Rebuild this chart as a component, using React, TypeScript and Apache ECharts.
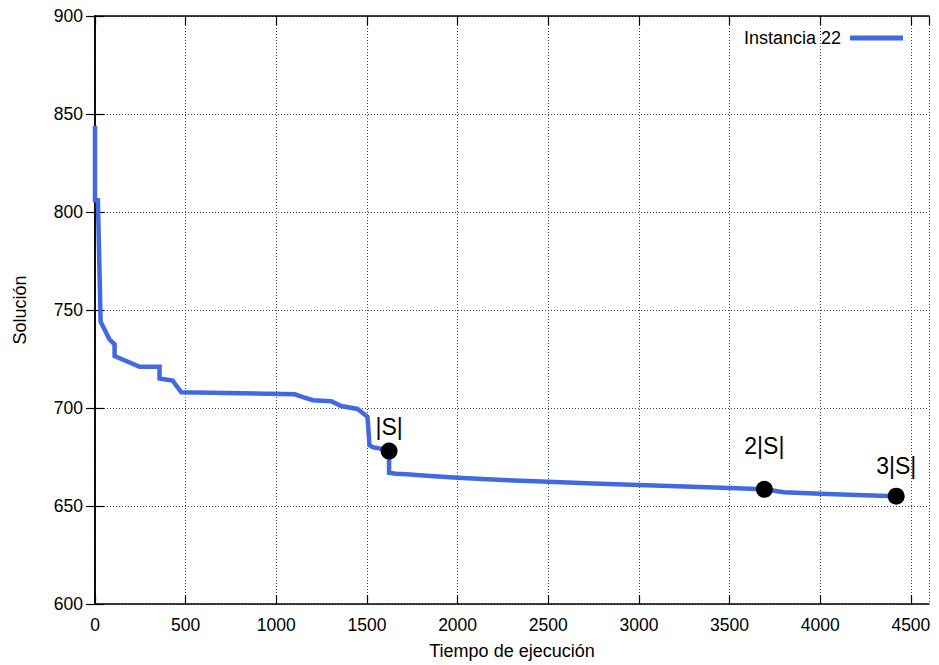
import React, { useEffect, useRef } from "react";
import * as echarts from "echarts";

// Execution time (x) and solution value (y) of the run
const timeValues = [0, 0, 16, 25, 31, 80, 108, 108, 246, 356, 356, 428, 476, 1103, 1147, 1202, 1303, 1358, 1448, 1503, 1514, 1531, 1588, 1622, 1622, 1661, 1717, 1850, 2000, 2250, 2500, 2750, 3000, 3250, 3500, 3692, 3800, 4000, 4200, 4419];
const solutionValues = [844, 806, 806, 769, 744, 735, 732.5, 726.5, 721, 721, 715, 714, 708, 707, 705.5, 704, 703.5, 701, 699.5, 695.5, 681, 680, 679, 678, 667, 666.5, 666.2, 665.3, 664.4, 663.3, 662.4, 661.5, 660.7, 660, 659.2, 658.5, 657, 656.2, 655.6, 655];

// Milestones marked on the curve
const markerTimes = [1622, 3692, 4419];
const markerValues = [678, 658.5, 655];
const markerLabels = ["|S|", "2|S|", "3|S|"];
const markerLabelOffsets = [-24, -43, -30];

const seriesName = "Instancia 22";
const xName = "Tiempo de ejecución";
const yName = "Solución";

const FONT = "'Liberation Sans', Arial, Helvetica, sans-serif";

export default function App() {
  const ref = useRef<HTMLDivElement>(null);
  useEffect(() => {
    if (!ref.current) return;
    const chart = echarts.init(ref.current, undefined, { renderer: "svg" });
    const lineData = timeValues.map((t, i) => [t, solutionValues[i]]);
    const markerData = markerTimes.map((t, i) => ({
      value: [t, markerValues[i]],
      label: { formatter: markerLabels[i], offset: [0, markerLabelOffsets[i]] },
    }));
    const axisLine = { show: true, lineStyle: { color: "#000", width: 1.5 } };
    const tick = { show: true, inside: true, length: 9, lineStyle: { color: "#000", width: 1.2 } };
    chart.setOption({
      animation: false,
      backgroundColor: "#fff",
      textStyle: { fontFamily: FONT },
      grid: { left: 95, right: 10, top: 16, bottom: 59, containLabel: false },
      legend: {
        data: [{ name: seriesName, icon: "rect" }],
        right: 31,
        top: 24,
        align: "right",
        itemWidth: 53,
        itemHeight: 5,
        textStyle: { fontSize: 18, color: "#000", fontFamily: FONT, padding: [0, 4, 0, 0] },
      },
      xAxis: [
        {
          type: "value",
          min: 0,
          max: 4600,
          interval: 500,
          name: xName,
          nameLocation: "middle",
          nameGap: 38,
          nameTextStyle: { fontSize: 18, color: "#000", fontFamily: FONT },
          axisLine,
          axisTick: tick,
          axisLabel: {
            fontSize: 17.5,
            color: "#000",
            margin: 12,
            showMaxLabel: false,
            fontFamily: FONT,
            formatter: (v: number) => String(v),
          },
          splitLine: { show: true, lineStyle: { color: "#444", width: 1, type: [1, 2] } },
        },
        {
          type: "value",
          position: "top",
          min: 0,
          max: 4600,
          interval: 500,
          axisLine,
          axisTick: tick,
          axisLabel: { show: false },
          splitLine: { show: false },
        },
      ],
      yAxis: [
        {
          type: "value",
          min: 600,
          max: 900,
          interval: 50,
          name: yName,
          nameLocation: "middle",
          nameGap: 66,
          nameTextStyle: { fontSize: 18, color: "#000", fontFamily: FONT },
          axisLine,
          axisTick: tick,
          axisLabel: { fontSize: 17.5, color: "#000", margin: 12, fontFamily: FONT, formatter: (v: number) => String(v) },
          splitLine: { show: true, lineStyle: { color: "#444", width: 1, type: [1, 2] } },
        },
        {
          type: "value",
          position: "right",
          min: 600,
          max: 900,
          interval: 50,
          axisLine,
          axisTick: tick,
          axisLabel: { show: false },
          splitLine: { show: false },
        },
      ],
      series: [
        {
          name: seriesName,
          type: "line",
          data: lineData,
          showSymbol: false,
          symbol: "none",
          lineStyle: { color: "#4169E1", width: 4.5, join: "miter" },
          itemStyle: { color: "#4169E1" },
          z: 2,
        },
        {
          name: "hitos",
          type: "scatter",
          data: markerData,
          symbol: "circle",
          symbolSize: 17,
          itemStyle: { color: "#000", opacity: 1 },
          label: {
            show: true,
            position: "inside",
            fontSize: 23,
            color: "#000",
            fontFamily: FONT,
          },
          emphasis: { disabled: true },
          z: 3,
        },
      ],
    });
    return () => chart.dispose();
  }, []);
  return (
    <div
      ref={ref}
      style={{ position: "fixed", left: 0, top: 0, width: 939, height: 665 }}
    />
  );
}
